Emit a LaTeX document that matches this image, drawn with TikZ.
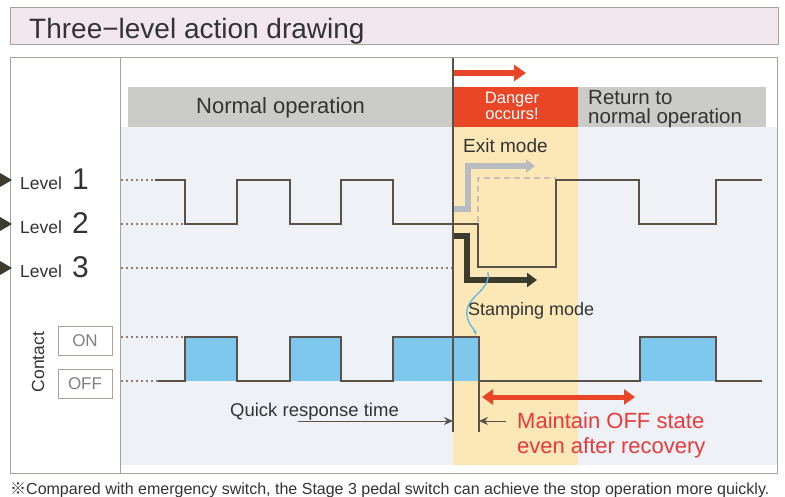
\documentclass[tikz,border=0pt]{standalone}
\usepackage{fontspec}
\setmainfont{Liberation Sans}
\newfontfamily\cjkf{Noto Sans CJK JP}
\usetikzlibrary{arrows.meta}
\definecolor{titlefill}{HTML}{F3E7EF}
\definecolor{framegray}{HTML}{A8A29C}
\definecolor{chartbg}{HTML}{EEF2F7}
\definecolor{barGray}{HTML}{CBCBC8}
\definecolor{dangerRed}{HTML}{E84626}
\definecolor{bandYellow}{HTML}{FCE7B7}
\definecolor{waveCol}{HTML}{5A5249}
\definecolor{dotCol}{HTML}{8C7C74}
\definecolor{pulseBlue}{HTML}{7DC8EC}
\definecolor{stampCol}{HTML}{3D3C2C}
\definecolor{exitCol}{HTML}{B8BCC0}
\definecolor{dashCol}{HTML}{CDBFB6}
\definecolor{txt}{HTML}{333333}
\definecolor{redTxt}{HTML}{E83A3A}
\definecolor{curveBlue}{HTML}{5BB8E6}
\tikzset{
  fs/.style={font=\fontsize{#1}{#1}\selectfont},
  lbl/.style={anchor=base west, inner sep=0pt, text=txt},
  wave/.style={draw=waveCol, line width=1.7pt, line join=miter},
  dotline/.style={draw=dotCol, line width=1.6pt, dash pattern=on 2.4pt off 2.6pt},
  tri/.style={fill=stampCol},
  stateBox/.style={draw=framegray, line width=0.8pt, fill=white, minimum width=54pt, minimum height=29pt, inner sep=0pt, text=gray},
}
\begin{document}
\begin{tikzpicture}[x=1pt,y=-1pt]
\useasboundingbox (0,0) rectangle (785,497);
\fill[white] (0,0) rectangle (785,497);
% title
\draw[fill=titlefill, draw=framegray, line width=1pt] (10,8) rectangle (778,45);
\node[lbl, fs=28] (title) at (29,38.5) {Three−level action drawing};
% frame and backgrounds
\fill[chartbg] (120,127) rectangle (777,465);
\fill[bandYellow] (453,127) rectangle (578,465);
\draw[framegray, line width=1pt] (10,58) rectangle (777,473);
\draw[framegray, line width=1pt] (120,58) -- (120,473);
% header bars
\fill[barGray] (128,87) rectangle (453,127);
\fill[dangerRed] (453,87) rectangle (578,127);
\fill[barGray] (578,87) rectangle (766,127);
\node[lbl, fs=22] (normal) at (196,114) {Normal operation};
\node[anchor=north, inner sep=0pt, text=white, align=center, font=\fontsize{16.5}{16}\selectfont] (danger) at (512,92) {Danger\\occurs!};
\node[anchor=north west, inner sep=0pt, text=txt, align=left, font=\fontsize{20.5}{19}\selectfont] (ret) at (588,90) {Return to\\normal operation};
% red top arrow
\coordinate (rs) at (453,73);
\coordinate (re) at (526,73);
\draw[dangerRed, line width=6pt, -{Triangle[length=12pt,width=16pt]}] (rs) -- (re);
% level markers
\foreach \y/\n/\nm in {180/1/a,224/2/b,268/3/c}{
  \fill[tri] (0,\y-7) -- (12,\y) -- (0,\y+7) -- cycle;
  \node[lbl, fs=17.5] (lev\nm) at (20,\y+9.5) {Level};
  \node[lbl, fs=30] (num\nm) at (72,\y+9.5) {\n};
}
% dotted guides
\draw[dotline] (121,180) -- (155,180);
\draw[dotline] (121,224) -- (185,224);
\draw[dotline] (121,268) -- (455,268);
\draw[dotline] (121,337) -- (185,337);
\draw[dotline] (121,381) -- (158,381);
% exit mode dashed path
\draw[dashCol, line width=1.4pt, dash pattern=on 6pt off 4pt] (478,222) -- (478,178) -- (556,178);
% exit mode arrow
\draw[exitCol, line width=6pt, -{Triangle[length=9pt,width=13pt]}] (453,209) -- (468,209) -- (468,166) -- (535,166);
\node[lbl, fs=19] (exit) at (463,153) {Exit mode};
% level waveform
\draw[wave] (155,180) -- (185,180) -- (185,224) -- (237,224) -- (237,180) -- (290,180) -- (290,224)
  -- (341,224) -- (341,180) -- (393,180) -- (393,224) -- (478,224) -- (478,267) -- (556,267)
  -- (556,180) -- (639,180) -- (639,224) -- (716,224) -- (716,180) -- (762,180);
% stamping arrow
\draw[stampCol, line width=5.5pt, -{Triangle[length=10pt,width=14pt]}] (453,236) -- (467,236) -- (467,280) -- (537,280);
% stamping curve
\coordinate (cs) at (488,272);
\coordinate (ce) at (476,335);
\draw[curveBlue, line width=1.3pt, -{Stealth[length=5pt,width=4pt]}] (cs) .. controls (491,292) and (464,296) .. (467,316) .. controls (469,326) and (474,328) .. (ce);
\node[lbl, fs=18] (stamp) at (468,316) {Stamping mode};
% contact pulses
\foreach \a/\b in {185/237,290/341,393/479,640/716}{
  \fill[pulseBlue] (\a,337) rectangle (\b,381);
}
\draw[wave] (158,381) -- (185,381) -- (185,337) -- (237,337) -- (237,381) -- (290,381) -- (290,337)
  -- (341,337) -- (341,381) -- (393,381) -- (393,337) -- (479,337) -- (479,381) -- (640,381)
  -- (640,337) -- (716,337) -- (716,381) -- (762,381);
% state boxes
\node[stateBox, fs=17] (on) at (85,341) {ON};
\node[stateBox, fs=17] (off) at (85,383.5) {OFF};
\node[rotate=90, inner sep=0pt, text=txt, fs=17.5] (contact) at (38,362) {Contact};
% vertical markers
\draw[waveCol, line width=1.2pt] (453,58) -- (453,432);
\draw[waveCol, line width=1.2pt] (479,381) -- (479,432);
% quick response
\node[lbl, fs=18.5] (quick) at (230,416) {Quick response time};
\coordinate (q1) at (298,421);
\coordinate (q2) at (453,421);
\coordinate (q3) at (506,421);
\coordinate (q4) at (479,421);
\draw[waveCol, line width=1pt, -{Stealth[length=9pt,width=8pt]}] (q1) -- (q2);
\draw[waveCol, line width=1pt, -{Stealth[length=9pt,width=8pt]}] (q3) -- (q4);
% maintain off
\coordinate (m1) at (482,397);
\coordinate (m2) at (635,397);
\draw[dangerRed, line width=5pt, {Triangle[length=11pt,width=15pt]}-{Triangle[length=11pt,width=15pt]}] (m1) -- (m2);
\node[lbl, fs=22, text=redTxt] (maint1) at (517,428) {Maintain OFF state};
\node[lbl, fs=22, text=redTxt] (maint2) at (517,453) {even after recovery};
% footnote
\node[lbl, fs=16] (foot) at (10,494) {{\cjkf ※}Compared with emergency switch, the Stage 3 pedal switch can achieve the stop operation more quickly.};
\end{tikzpicture}
\end{document}
